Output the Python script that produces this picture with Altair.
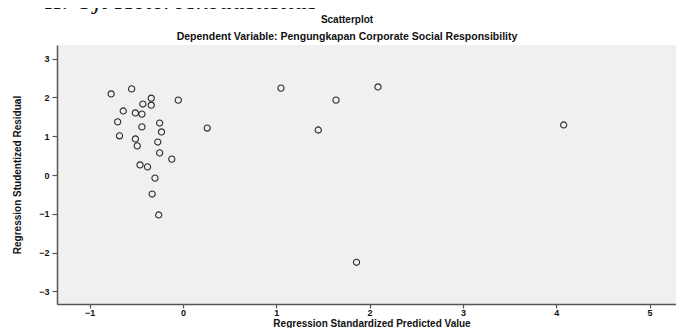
import altair as alt
import pandas as pd

pred_x = [-0.77, -0.55, -0.34, -0.34, -0.43, -0.05, -0.64, -0.51, -0.44, -0.70,
          -0.44, -0.25, -0.23, 0.26, -0.68, -0.51, -0.49, -0.27, -0.25, -0.12,
          -0.46, -0.38, -0.30, -0.33, -0.26, 1.05, 2.09, 1.64, 1.45, 4.08, 1.86]
resid_y = [2.09, 2.22, 1.98, 1.80, 1.83, 1.93, 1.65, 1.60, 1.57, 1.37,
           1.24, 1.34, 1.11, 1.21, 1.01, 0.93, 0.75, 0.85, 0.57, 0.41,
           0.26, 0.21, -0.08, -0.49, -1.03, 2.24, 2.27, 1.93, 1.16, 1.29, -2.25]
x_ticks = [-1, 0, 1, 2, 3, 4, 5]
y_ticks = [-3, -2, -1, 0, 1, 2, 3]

heading = "II.   Uji Heteroskedastisitas"
title_text = "Scatterplot"
subtitle_text = "Dependent Variable: Pengungkapan Corporate Social Responsibility"
x_title = "Regression Standardized Predicted Value"
y_title = "Regression Studentized Residual"

df = pd.DataFrame({"x": pred_x, "y": resid_y})

W, H = 619, 259
FONT = "Liberation Sans"

points = alt.Chart(df).mark_point(
    shape="circle", filled=False, size=38, color="#2a2a2a", strokeWidth=1.1, opacity=1
).encode(
    x=alt.X("x:Q", scale=alt.Scale(domain=[-1.35, 5.284], nice=False, zero=False),
            axis=alt.Axis(values=x_ticks, format="d", title=None, grid=False,
                          tickSize=4, labelPadding=0)),
    y=alt.Y("y:Q", scale=alt.Scale(domain=[-3.325, 3.351], nice=False, zero=False),
            axis=alt.Axis(values=y_ticks, format="d", title=None, grid=False,
                          tickSize=5, labelPadding=3)),
)

def txt(text, x, y, size, weight="bold", font=FONT, angle=0, style="normal", align="center"):
    return alt.Chart(pd.DataFrame({"t": [text]})).mark_text(
        font=font, fontSize=size, fontWeight=weight, angle=angle, fontStyle=style,
        align=align, baseline="alphabetic", color="#111"
    ).encode(x=alt.value(x), y=alt.value(y), text="t:N")

layers = [
    points,
    txt(heading, -12, -36, 26, weight="normal", font="Liberation Serif", style="italic", align="left"),
    txt(title_text, 290, -22, 10),
    txt(subtitle_text, 290, -5, 10.5),
    txt(x_title, 315, 282, 10),
    txt(y_title, -36, 130, 10, angle=270),
]

chart = alt.layer(*layers).properties(
    width=W, height=H,
    autosize=alt.AutoSizeParams(type="none"),
    padding={"left": 49, "top": 37, "right": 0, "bottom": 24},
).configure_view(
    fill="#f0f0f0", stroke=None
).configure_axis(
    domainColor="#555555", domainWidth=1.5, tickColor="#555555", tickWidth=1.2,
    labelFont=FONT, labelFontSize=9, labelFontWeight="bold", labelColor="#111"
)

chart.save("out.html", embed_options={"renderer": "svg", "actions": False})
